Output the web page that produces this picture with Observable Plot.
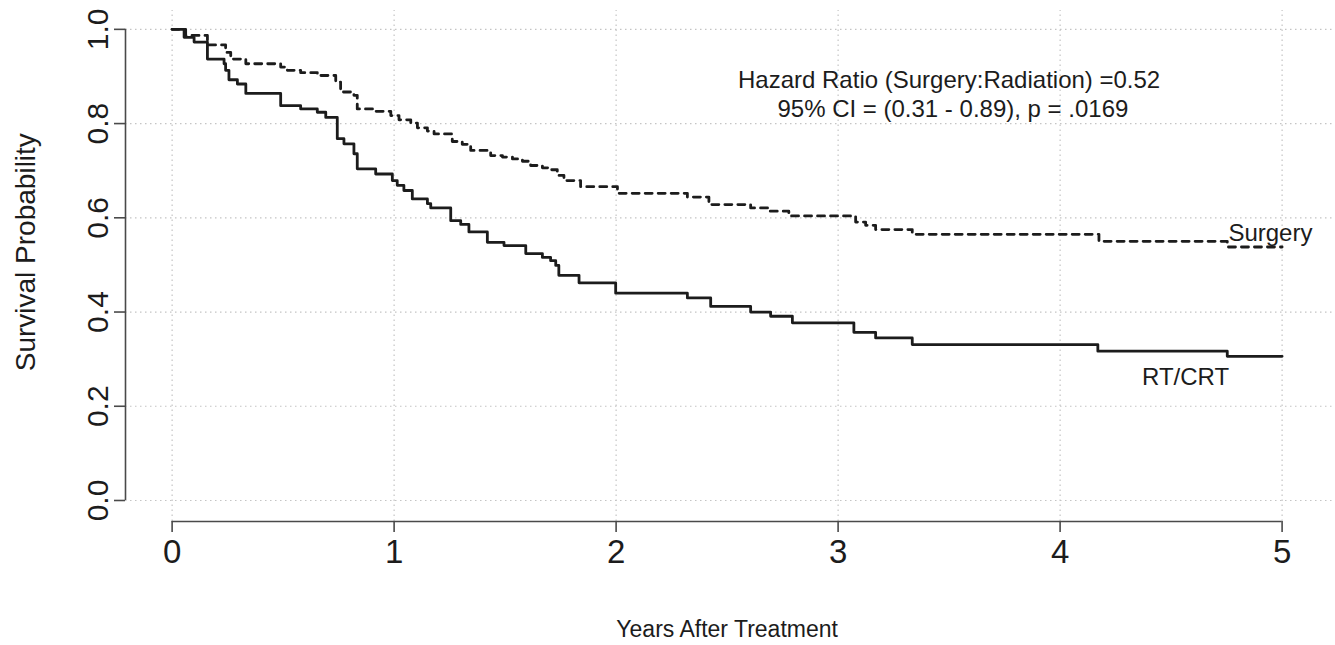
<!DOCTYPE html>
<html>
<head>
<meta charset="utf-8">
<script src="https://cdn.jsdelivr.net/npm/d3@7"></script>
<script src="https://cdn.jsdelivr.net/npm/@observablehq/plot@0.6"></script>
<style>
  html, body { margin: 0; padding: 0; background: #fff; }
  #chart svg { display: block; }
</style>
</head>
<body>
<div id="chart"></div>
<script>
// ---- data ----
const xTicks = [0, 1, 2, 3, 4, 5];
const yTicks = [0, 0.2, 0.4, 0.6, 0.8, 1.0];
const yTickLabels = ["0.0", "0.2", "0.4", "0.6", "0.8", "1.0"];

const rtTimes = [0, 0.054, 0.099, 0.159, 0.234, 0.241, 0.256, 0.294, 0.332, 0.489, 0.579, 0.654, 0.692, 0.744, 0.774, 0.819, 0.834, 0.917, 0.992, 1.014, 1.044, 1.082, 1.150, 1.165, 1.255, 1.300, 1.337, 1.420, 1.495, 1.593, 1.668, 1.705, 1.728, 1.742, 1.833, 1.998, 2.321, 2.426, 2.606, 2.696, 2.794, 3.071, 3.169, 3.334, 4.170, 4.753, 5.0];
const rtSurv  = [1.0, 0.983, 0.973, 0.937, 0.927, 0.913, 0.893, 0.884, 0.864, 0.838, 0.831, 0.824, 0.813, 0.768, 0.757, 0.736, 0.704, 0.693, 0.679, 0.669, 0.658, 0.640, 0.630, 0.621, 0.594, 0.586, 0.570, 0.548, 0.541, 0.524, 0.516, 0.509, 0.499, 0.478, 0.462, 0.440, 0.430, 0.412, 0.400, 0.391, 0.377, 0.357, 0.345, 0.331, 0.317, 0.306, 0.306];

const surgTimes = [0, 0.061, 0.159, 0.241, 0.264, 0.332, 0.489, 0.519, 0.579, 0.654, 0.737, 0.759, 0.819, 0.834, 0.909, 0.985, 1.022, 1.075, 1.105, 1.150, 1.180, 1.262, 1.307, 1.345, 1.435, 1.488, 1.533, 1.578, 1.615, 1.668, 1.705, 1.735, 1.765, 1.840, 2.006, 2.321, 2.418, 2.606, 2.688, 2.778, 3.079, 3.124, 3.169, 3.334, 4.175, 4.753, 5.0];
const surgSurv  = [1.0, 0.987, 0.967, 0.951, 0.937, 0.927, 0.920, 0.913, 0.908, 0.902, 0.888, 0.867, 0.860, 0.831, 0.826, 0.817, 0.808, 0.801, 0.791, 0.784, 0.778, 0.762, 0.756, 0.743, 0.732, 0.729, 0.725, 0.720, 0.711, 0.706, 0.702, 0.690, 0.679, 0.666, 0.652, 0.644, 0.628, 0.621, 0.614, 0.604, 0.591, 0.584, 0.575, 0.565, 0.550, 0.538, 0.538];

const annotationLines = ["Hazard Ratio (Surgery:Radiation) =0.52", "95% CI = (0.31 - 0.89), p = .0169"];
const seriesLabels = ["Surgery", "RT/CRT"];
const xTitle = "Years After Treatment";
const yTitle = "Survival Probability";

// ---- build tables ----
const rtData = rtTimes.map((t, i) => ({t, s: rtSurv[i]}));
const surgData = surgTimes.map((t, i) => ({t, s: surgSurv[i]}));

const xmin = -0.21, xmax = 5.2;
const ymin = -0.0446, ymax = 1.040;
const font = "'Liberation Sans', Arial, Helvetica, sans-serif";
const narrow = "'Liberation Sans Narrow', 'Arial Narrow', 'Liberation Sans', Arial, sans-serif";
const ink = "#1c1c1c";
const axisInk = "#4a4a4a";
const gridInk = "#c4c4c4";

const chart = Plot.plot({
  width: 1335,
  height: 645,
  marginLeft: 125,
  marginRight: 9,
  marginTop: 10,
  marginBottom: 124,
  style: {fontFamily: font, background: "#fff", color: ink},
  x: {domain: [xmin, xmax], axis: null},
  y: {domain: [ymin, ymax], axis: null},
  marks: [
    // grid
    Plot.ruleY(yTicks, {x1: xmin, x2: xmax + 0.04, stroke: gridInk, strokeWidth: 1.2, strokeDasharray: "1.5,3.5"}),
    Plot.ruleX(xTicks, {y1: ymin, y2: ymax, stroke: gridInk, strokeWidth: 1.2, strokeDasharray: "1.5,3.5"}),
    // axis lines
    Plot.ruleX([xmin], {y1: 0, y2: 1, stroke: axisInk, strokeWidth: 1.6}),
    Plot.ruleY([ymin], {x1: 0, x2: 5, stroke: axisInk, strokeWidth: 1.6}),
    // ticks
    Plot.axisY({ticks: yTicks, tickSize: 11, tickFormat: () => "", stroke: axisInk, strokeWidth: 1.6, label: null}),
    Plot.axisX({ticks: xTicks, tickSize: 11, tickFormat: () => "", stroke: axisInk, strokeWidth: 1.6, label: null}),
    // tick labels
    Plot.text(yTicks, {x: xmin, y: d => d, text: (d, i) => yTickLabels[i], dx: -27, rotate: -90, textAnchor: "middle", lineAnchor: "middle", fontSize: 30, fontFamily: narrow, fill: ink}),
    Plot.text(xTicks, {x: d => d, y: ymin, text: d => String(d), dy: 31, textAnchor: "middle", lineAnchor: "middle", fontSize: 33, fontFamily: narrow, fill: ink}),
    // axis titles
    Plot.text([yTitle], {x: xmin, y: 0.527, dx: -99, rotate: -90, textAnchor: "middle", lineAnchor: "middle", fontSize: 28, fill: ink}),
    Plot.text([xTitle], {x: 2.5, y: ymin, dy: 108, textAnchor: "middle", lineAnchor: "middle", fontSize: 23, fontFamily: narrow, fill: ink}),
    // survival curves
    Plot.line(surgData, {x: "t", y: "s", curve: "step-after", stroke: ink, strokeWidth: 2.8, strokeDasharray: "7,6"}),
    Plot.line(rtData, {x: "t", y: "s", curve: "step-after", stroke: ink, strokeWidth: 2.8}),
    // annotations
    Plot.text(annotationLines, {x: (d, i) => [3.5, 3.517][i], y: (d, i) => [0.875, 0.813][i], text: d => d, textAnchor: "middle", lineAnchor: "bottom", fontSize: 24, fill: ink}),
    Plot.text(seriesLabels, {x: (d, i) => [4.758, 4.369][i], y: (d, i) => [0.550, 0.246][i], text: d => d, textAnchor: "start", lineAnchor: "bottom", fontSize: 24, fill: ink})
  ]
});
document.getElementById("chart").appendChild(chart);
</script>
</body>
</html>
